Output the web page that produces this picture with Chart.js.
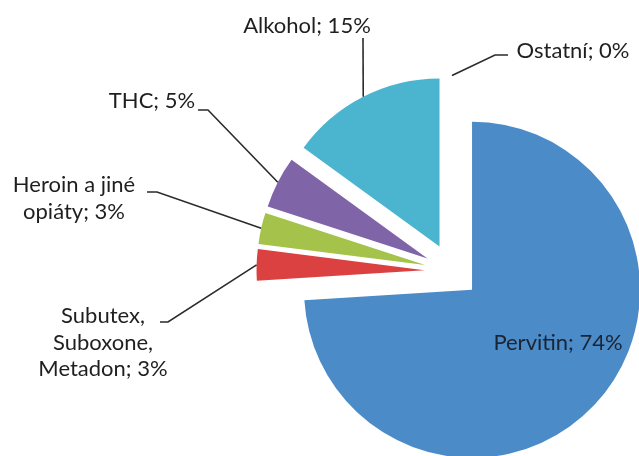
<!DOCTYPE html>
<html>
<head>
<meta charset="utf-8">
<script src="https://cdn.jsdelivr.net/npm/chart.js@4"></script>
<style>
  html, body { margin: 0; padding: 0; background: #fff; }
  #wrap { width: 639px; height: 456px; }
</style>
</head>
<body>
<div id="wrap"><canvas id="pie" width="639" height="456"></canvas></div>
<script>
// data
const categories = ["Pervitin", "Subutex, Suboxone, Metadon", "Heroin a jiné opiáty", "THC", "Alkohol", "Ostatní"];
const shares = [74, 3, 3, 5, 15, 0];
const colors = ["#4a8bc8", "#db4140", "#a5c34a", "#8064a8", "#4bb5d0", "#f39a3e"];

// where each data label sits (centre x, first baseline), wrap width and leader elbow
const labelLayout = [
  { x: 558, y: 350, wrap: 200, inside: true },
  { x: 103, y: 323, wrap: 145, elbow: [168, 322], tick: 160 },
  { x: 74,  y: 192, wrap: 145, elbow: [157, 192], tick: 147 },
  { x: 152, y: 108, wrap: 145, elbow: [208, 110], tick: 198 },
  { x: 307, y: 33,  wrap: 200, elbow: [363, 38] },
  { x: 573, y: 58,  wrap: 200, elbow: [495, 55], tick: 508 }
];

const EXPLODE = 27.5;
const FONT = '22px Lato';
const LINE_H = 26.5;

// pull every slice out along its own bisector, keeping its radius
const explodePlugin = {
  id: 'explode',
  beforeDatasetDraw(chart, args) {
    const ctx = chart.ctx;
    args.meta.data.forEach(arc => {
      const mid = (arc.startAngle + arc.endAngle) / 2;
      ctx.save();
      ctx.translate(Math.cos(mid) * EXPLODE, Math.sin(mid) * EXPLODE);
      arc.draw(ctx, chart.chartArea);
      ctx.restore();
    });
    return false;
  }
};

function wrapText(ctx, text, maxW) {
  const words = text.split(' ');
  const lines = [];
  let cur = '';
  words.forEach(w => {
    const test = cur ? cur + ' ' + w : w;
    if (cur && ctx.measureText(test).width > maxW) {
      lines.push(cur);
      cur = w;
    } else {
      cur = test;
    }
  });
  if (cur) lines.push(cur);
  return lines;
}

// Excel-like data labels with leader lines to the middle of each slice
const labelPlugin = {
  id: 'sliceLabels',
  afterDatasetsDraw(chart) {
    const ctx = chart.ctx;
    const meta = chart.getDatasetMeta(0);
    ctx.save();
    ctx.font = FONT;
    ctx.textAlign = 'center';
    ctx.textBaseline = 'alphabetic';
    meta.data.forEach((arc, i) => {
      const lay = labelLayout[i];
      const text = `${categories[i]}; ${shares[i]}%`;
      const lines = wrapText(ctx, text, lay.wrap);

      if (lay.elbow) {
        const mid = (arc.startAngle + arc.endAngle) / 2;
        const r = arc.outerRadius + EXPLODE;
        const px = arc.x + Math.cos(mid) * r;
        const py = arc.y + Math.sin(mid) * r;
        ctx.beginPath();
        ctx.strokeStyle = '#2b2b2b';
        ctx.lineWidth = 1.6;
        ctx.moveTo(px, py);
        ctx.lineTo(lay.elbow[0], lay.elbow[1]);
        if (lay.tick !== undefined) ctx.lineTo(lay.tick, lay.elbow[1]);
        ctx.stroke();
      }

      ctx.fillStyle = lay.inside ? '#1b2433' : '#1f1f1f';
      lines.forEach((ln, k) => ctx.fillText(ln, lay.x, lay.y + k * LINE_H));
    });
    ctx.restore();
  }
};

new Chart(document.getElementById('pie'), {
  type: 'pie',
  data: {
    labels: categories,
    datasets: [{
      data: shares,
      backgroundColor: colors,
      borderWidth: 0
    }]
  },
  options: {
    responsive: false,
    animation: false,
    radius: 168,
    layout: { padding: { left: 265, right: 0, top: 86, bottom: 0 } },
    plugins: {
      legend: { display: false },
      tooltip: { enabled: false }
    }
  },
  plugins: [explodePlugin, labelPlugin]
});
</script>
</body>
</html>
